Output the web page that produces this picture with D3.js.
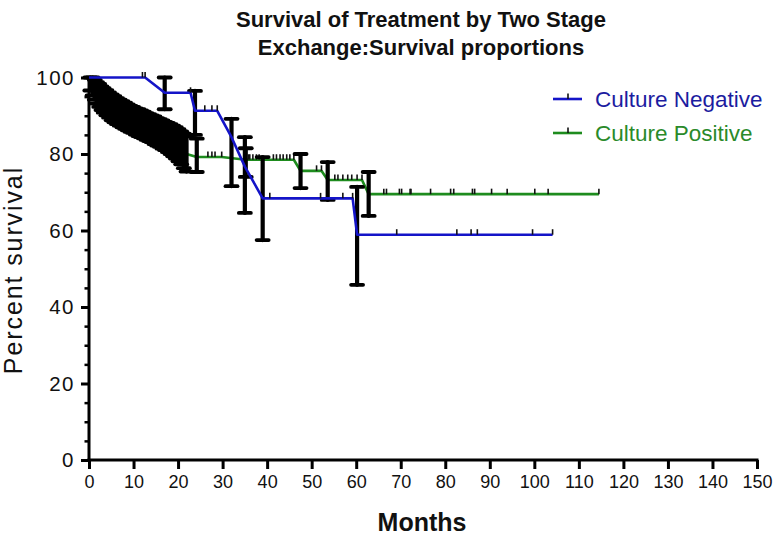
<!DOCTYPE html>
<html><head><meta charset="utf-8">
<script src="https://cdn.jsdelivr.net/npm/d3@7"></script>
<style>
body{margin:0;background:#fff}
svg{display:block}
text{font-family:"Liberation Sans",Arial,Helvetica,sans-serif}
</style>
</head><body>
<svg id="chart" width="774" height="535"></svg>
<script>
// ---------- data ----------
const titleLines = ["Survival of Treatment by Two Stage", "Exchange:Survival proportions"];
const xAxisTitle = "Months";
const yAxisTitle = "Percent survival";
const seriesNames = ["Culture Negative", "Culture Positive"];
const seriesColors = ["#1414c8", "#1e8c1e"];
const legendTextColors = ["#1c1ca0", "#2a8a2a"];

const xTickValues = [0, 10, 20, 30, 40, 50, 60, 70, 80, 90, 100, 110, 120, 130, 140, 150];
const yTickValues = [0, 20, 40, 60, 80, 100];
const yMinorTickValues = [5, 10, 15, 25, 30, 35, 45, 50, 55, 65, 70, 75, 85, 90, 95];

// Culture Negative: events (month, survival %, error bar low/high) and censored months
const negEventMonths   = [17.0, 23.8, 32.0, 35.0, 39.0, 60.2];
const negEventSurvival = [96.0, 91.3, 84.4, 76.7, 68.4, 58.9];
const negErrLow        = [91.7, 85.0, 71.6, 64.6, 57.5, 45.8];
const negErrHigh       = [100.0, 96.5, 89.2, 84.4, 79.2, 71.4];
const negCensorMonths  = [12.0, 12.6, 22.8, 26.0, 27.6, 28.8, 40.6, 52.0, 57.0, 59.2,
                          69.1, 82.6, 85.8, 87.2, 99.6, 104.1];

// Culture Positive
const posEventMonths   = [0.3, 0.8, 1.3, 1.8, 2.3, 2.8, 3.3, 3.9, 4.5, 5.1, 5.7, 6.3, 6.9, 7.5,
                          8.1, 8.7, 9.3, 9.9, 10.5, 11.1, 11.7, 12.3, 12.9, 13.5, 14.1, 14.7,
                          15.3, 15.9, 16.5, 17.1, 17.7, 18.3, 18.9, 19.5, 20.1, 20.7, 21.3, 21.9,
                          24.2, 35.2, 47.5, 53.6, 62.8];
const posEventSurvival = [98.8, 97.7, 96.8, 96.0, 95.3, 94.6, 94.0, 93.4, 92.8, 92.2, 91.7, 91.2,
                          90.8, 90.4, 90.0, 89.6, 89.2, 88.9, 88.5, 88.2, 87.9, 87.6, 87.2, 86.9,
                          86.6, 86.2, 85.8, 85.5, 85.1, 84.7, 84.3, 83.9, 83.4, 82.9, 82.3, 81.6,
                          80.8, 80.0, 79.2, 78.5, 75.6, 73.2, 69.5];
const posErrLow        = [96.6, 95.3, 94.2, 93.2, 92.3, 91.5, 90.8, 90.1, 89.5, 88.8, 88.3, 87.8,
                          87.4, 87.0, 86.6, 86.2, 85.8, 85.5, 85.1, 84.7, 84.4, 84.1, 83.7, 83.4,
                          83.1, 82.6, 82.2, 81.9, 81.4, 81.0, 80.5, 80.0, 79.4, 78.8, 78.1, 77.3,
                          76.3, 75.4, 75.3, 74.0, 71.1, 68.0, 63.8];
const posErrHigh       = [100.0, 100.0, 99.4, 98.8, 98.3, 97.7, 97.2, 96.7, 96.1, 95.6, 95.1, 94.6,
                          94.2, 93.8, 93.4, 93.0, 92.6, 92.3, 91.9, 91.7, 91.4, 91.1, 90.7, 90.4,
                          90.1, 89.8, 89.4, 89.1, 88.8, 88.4, 88.1, 87.8, 87.4, 87.0, 86.5, 85.9,
                          85.3, 84.6, 84.0, 81.5, 80.0, 77.9, 75.3];
const posCensorMonths  = [26.7, 27.6, 28.3, 29.8, 35.8, 36.1, 36.8, 37.6, 38.2, 41.4, 42.1, 42.9,
                          43.6, 44.4, 45.1, 46.0, 51.1, 52.2, 55.2, 55.9, 57.0, 58.1, 59.0, 60.2,
                          61.3, 66.2, 66.8, 69.7, 70.2, 72.1, 72.3, 76.7, 81.2, 81.9, 86.1, 86.6,
                          90.4, 93.9, 100.1, 103.1, 114.5];

// ---------- layout ----------
const svg = d3.select("#chart");
const x = d3.scaleLinear().domain([0, 150]).range([89, 757]);
const y = d3.scaleLinear().domain([0, 100]).range([460, 77.5]);

function buildCurve(evM, evS, cenM) {
  const pts = [{t: 0, s: 100, c: false}];
  evM.forEach((t, i) => pts.push({t, s: evS[i], c: false}));
  cenM.forEach(t => pts.push({t, s: null, c: true}));
  pts.sort((a, b) => a.t - b.t || (a.c ? 1 : -1));
  let cur = 100;
  pts.forEach(p => { if (p.c) p.s = cur; else cur = p.s; });
  return pts;
}
function buildBars(evM, lo, hi) {
  return evM.map((t, i) => ({t, lo: lo[i], hi: hi[i]}));
}

const negCurve = buildCurve(negEventMonths, negEventSurvival, negCensorMonths);
const posCurve = buildCurve(posEventMonths, posEventSurvival, posCensorMonths);
const negBars = buildBars(negEventMonths, negErrLow, negErrHigh);
const posBars = buildBars(posEventMonths, posErrLow, posErrHigh);

const line = d3.line().x(d => x(d.t)).y(d => y(d.s));

function drawLine(curve, color) {
  svg.append("path").datum(curve).attr("d", line)
    .attr("fill", "none").attr("stroke", color).attr("stroke-width", 2.6)
    .attr("stroke-linejoin", "round");
}
function drawCensors(curve) {
  svg.append("g").selectAll("line").data(curve.filter(d => d.c)).join("line")
    .attr("x1", d => x(d.t)).attr("x2", d => x(d.t))
    .attr("y1", d => y(d.s)).attr("y2", d => y(d.s) - 5.5)
    .attr("stroke", "#111").attr("stroke-width", 1.6);
}
function drawBars(bars) {
  const g = svg.append("g").attr("stroke", "#000").attr("stroke-linecap", "round");
  g.selectAll("line.v").data(bars).join("line").attr("class", "v")
    .attr("x1", d => x(d.t)).attr("x2", d => x(d.t))
    .attr("y1", d => y(d.lo)).attr("y2", d => y(d.hi)).attr("stroke-width", 4.2);
  ["lo", "hi"].forEach(k => {
    g.selectAll("line." + k).data(bars).join("line").attr("class", k)
      .attr("x1", d => x(d.t) - 6).attr("x2", d => x(d.t) + 6)
      .attr("y1", d => y(d[k])).attr("y2", d => y(d[k])).attr("stroke-width", 3.8);
  });
}

// ---------- axes ----------
const xAxis = svg.append("g").attr("transform", "translate(0,460)")
  .call(d3.axisBottom(x).tickValues(xTickValues).tickSize(9).tickSizeOuter(0).tickPadding(6));
xAxis.select(".domain").attr("stroke", "#000").attr("stroke-width", 3)
  .attr("d", `M${x(0) - 1.5},0H${x(150) + 1.5}`);
xAxis.selectAll(".tick line").attr("stroke", "#000").attr("stroke-width", 3);
xAxis.selectAll(".tick text").attr("font-size", 18).attr("fill", "#111")
  .attr("font-family", '"Liberation Sans",Arial,sans-serif');

const yAxis = svg.append("g").attr("transform", "translate(89,0)")
  .call(d3.axisLeft(y).tickValues(yTickValues).tickSize(8).tickSizeOuter(0).tickPadding(6));
yAxis.select(".domain").attr("stroke", "#000").attr("stroke-width", 3)
  .attr("d", `M0,${y(0) + 1.5}V${y(100) - 1}`);
yAxis.selectAll(".tick line").attr("stroke", "#000").attr("stroke-width", 3);
yAxis.selectAll(".tick text").attr("font-size", 20.5).attr("fill", "#111")
  .attr("letter-spacing", 1.5)
  .attr("font-family", '"Liberation Sans",Arial,sans-serif');

const yMinor = svg.append("g").attr("transform", "translate(89,0)")
  .call(d3.axisLeft(y).tickValues(yMinorTickValues).tickSize(4.5).tickFormat(""));
yMinor.select(".domain").remove();
yMinor.selectAll(".tick line").attr("stroke", "#000").attr("stroke-width", 2.5);

// ---------- series ----------
drawLine(posCurve, seriesColors[1]);
drawCensors(posCurve);
drawBars(posBars);
drawBars(negBars);
drawLine(negCurve, seriesColors[0]);
drawCensors(negCurve);

// ---------- titles ----------
svg.append("g").selectAll("text").data(titleLines).join("text")
  .attr("x", 421).attr("y", (d, i) => 27 + i * 28)
  .attr("text-anchor", "middle").attr("font-size", 22).attr("font-weight", "bold")
  .attr("fill", "#111").text(d => d);

svg.append("text").attr("x", 422).attr("y", 531).attr("text-anchor", "middle")
  .attr("font-size", 25).attr("font-weight", "bold").attr("fill", "#111").text(xAxisTitle);

svg.append("text").attr("transform", "translate(22,270) rotate(-90)")
  .attr("text-anchor", "middle").attr("font-size", 25).attr("letter-spacing", 1.9)
  .attr("fill", "#111").text(yAxisTitle);

// ---------- legend ----------
const legend = svg.append("g");
seriesNames.forEach((name, i) => {
  const ly = 99 + i * 34;
  legend.append("line").attr("x1", 553).attr("x2", 582).attr("y1", ly).attr("y2", ly)
    .attr("stroke", seriesColors[i]).attr("stroke-width", 2.6);
  legend.append("line").attr("x1", 568).attr("x2", 568).attr("y1", ly).attr("y2", ly - 5.5)
    .attr("stroke", "#111").attr("stroke-width", 1.6);
  legend.append("text").attr("x", 595).attr("y", ly + 8).attr("font-size", 22.5)
    .attr("fill", legendTextColors[i]).text(name);
});
</script>
</body></html>
